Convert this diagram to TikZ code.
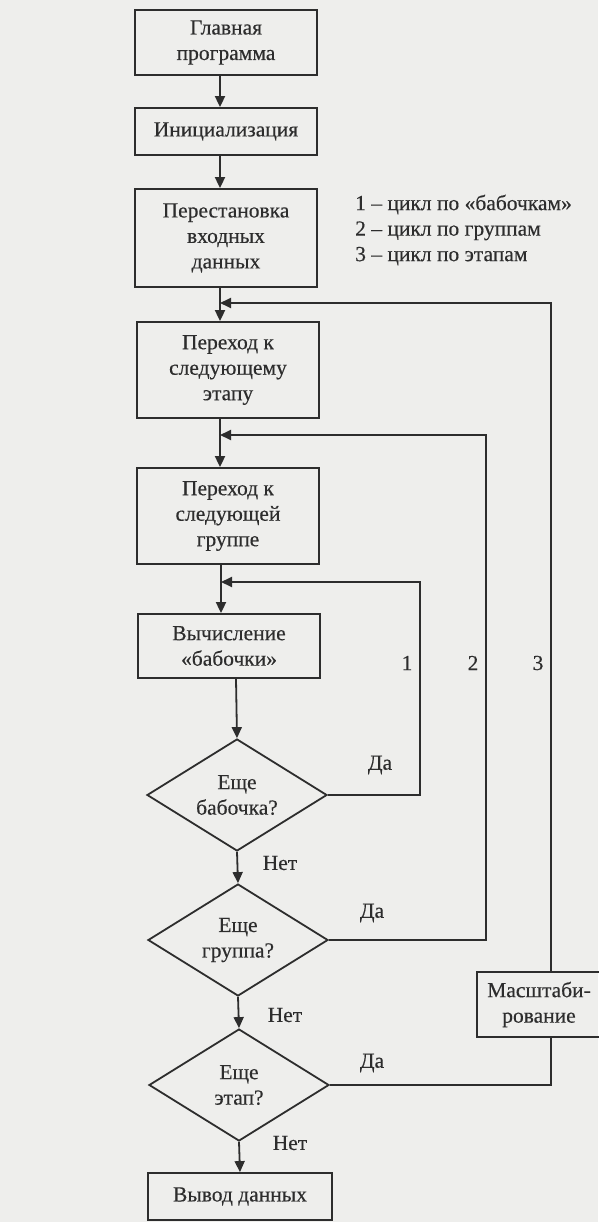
\documentclass[tikz,border=0pt]{standalone}
\usepackage{fontspec}
\setmainfont{Liberation Serif}[BoldFont={Liberation Serif},BoldFeatures={FakeBold=0.35}]
\usetikzlibrary{shapes.geometric,arrows.meta,calc}
\definecolor{paper}{RGB}{238,238,236}
\definecolor{ink}{RGB}{45,45,45}
\begin{document}
\begin{tikzpicture}[x=1pt,y=-1pt,
  every node/.style={text=ink,font=\fontsize{21.5}{25.5}\selectfont\bfseries},
  block/.style={draw=ink,line width=1.8pt,align=center,inner sep=0pt,minimum width=182pt},
  decision/.style={diamond,draw=ink,line width=1.8pt,align=center,inner sep=0pt,aspect=1.6,
    minimum width=180pt,minimum height=112pt},
  flow/.style={draw=ink,line width=1.8pt},
  tip/.style={flow,-{Triangle[length=11pt,width=10pt]}},
  lbl/.style={inner sep=0pt},
]
% sheet
\fill[paper] (0,0) rectangle (598,1222);
\useasboundingbox (0,0) rectangle (598,1222);

% blocks of the main flow
\node[block,minimum height=65pt] (main) at (226,42.5) {Главная\\программа};
\node[block,minimum height=47pt] (init) at (226,131.5) {Инициализация};
\node[block,minimum height=98pt] (perm) at (226,238) {Перестановка\\входных\\данных};
\node[block,minimum height=96pt] (stage) at (228,370) {Переход к\\следующему\\этапу};
\node[block,minimum height=96pt] (group) at (228,516) {Переход к\\следующей\\группе};
\node[block,minimum height=64pt] (bfly) at (229,646) {Вычисление\\«бабочки»};
\node[decision] (d1) at (237,795) {Еще\\бабочка?};
\node[decision] (d2) at (238,940) {Еще\\группа?};
\node[decision] (d3) at (239,1085) {Еще\\этап?};
\node[block,minimum width=184pt,minimum height=47pt] (out) at (240,1196.5) {Вывод данных};
\node[block,minimum width=124pt,minimum height=65pt] (scale) at (539,1004.5) {Масштаби-\\рование};

% legend
\node[lbl,anchor=west,align=left] (legend) at (355,230)
  {1 – цикл по «бабочкам»\\2 – цикл по группам\\3 – цикл по этапам};

% spine of the upper part and loop columns
\coordinate (sp) at (220,0);
\coordinate (j3) at (220,303);
\coordinate (j2) at (220,435);
\coordinate (j1) at (221,582);
\coordinate (c1) at (420,0);
\coordinate (c2) at (486,0);
\coordinate (c3) at (551,0);

% main flow
\draw[tip] (main.south -| sp) -- (init.north -| sp);
\draw[tip] (init.south -| sp) -- (perm.north -| sp);
\draw[tip] (perm.south -| sp) -- (stage.north -| sp);
\draw[tip] (stage.south -| sp) -- (group.north -| sp);
\draw[tip] (group.south -| j1) -- (bfly.north -| j1);
\draw[tip] ($(bfly.south)+(7,0)$) -- (d1.north);
\draw[tip] (d1.south) -- (d2.north);
\draw[tip] (d2.south) -- (d3.north);
\draw[tip] (d3.south) -- (out.north);

% loop 1: next butterfly
\draw[tip] (d1.east) -- (d1.east -| c1) -- (j1 -| c1) -- (j1);
% loop 2: next group
\draw[tip] (d2.east) -- (d2.east -| c2) -- (j2 -| c2) -- (j2);
% loop 3: next stage, through scaling
\draw[flow] (d3.east) -- (d3.east -| c3) -- (scale.south -| c3);
\draw[tip] (scale.north -| c3) -- (j3 -| c3) -- (j3);

% branch labels
\node[lbl] (yes1) at (380,765) {Да};
\node[lbl] (yes2) at (372,913) {Да};
\node[lbl] (yes3) at (372,1063) {Да};
\node[lbl] (no1) at (280,863) {Нет};
\node[lbl] (no2) at (285,1015) {Нет};
\node[lbl] (no3) at (290,1143) {Нет};
\node[lbl] (n1) at (407,663) {1};
\node[lbl] (n2) at (473,663) {2};
\node[lbl] (n3) at (538,663) {3};
\end{tikzpicture}
\end{document}
